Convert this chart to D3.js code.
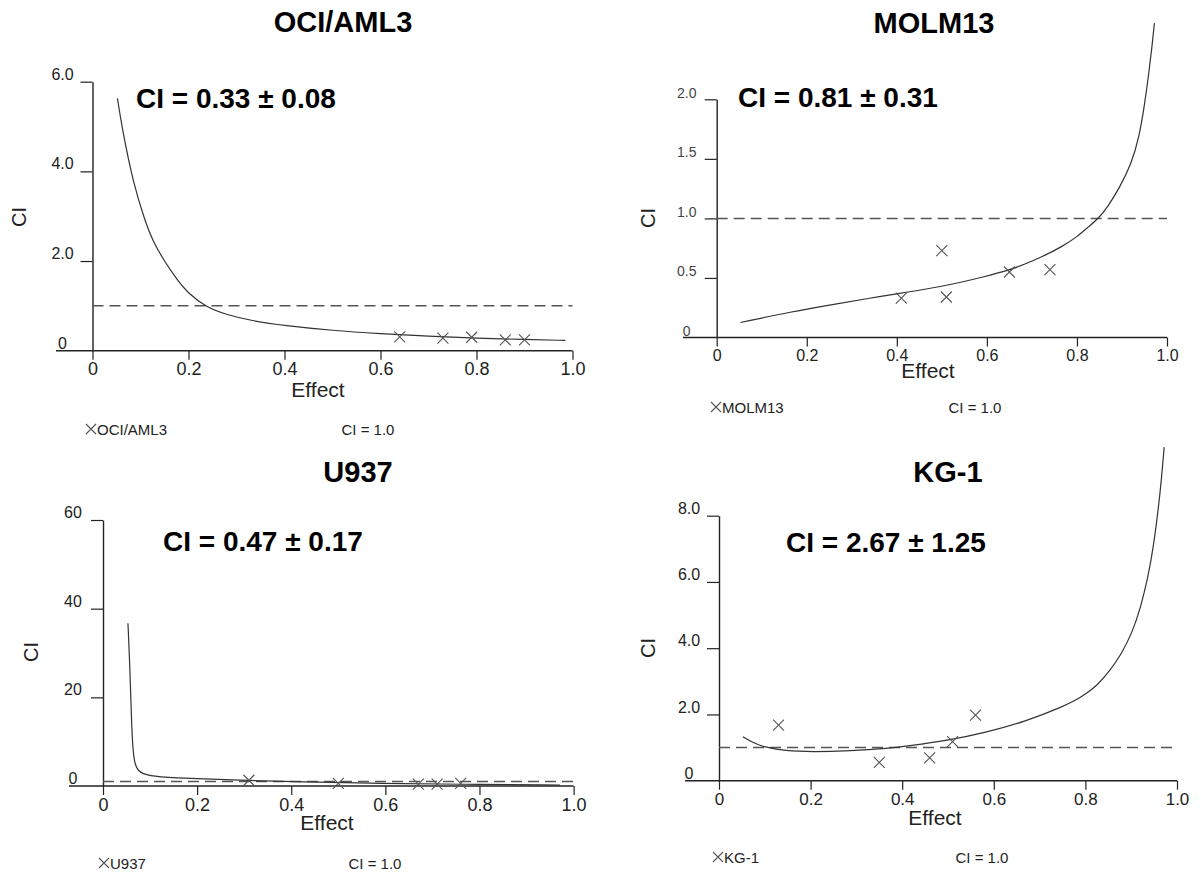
<!DOCTYPE html>
<html>
<head>
<meta charset="utf-8">
<script src="https://cdn.jsdelivr.net/npm/d3@7"></script>
<style>
  html, body { margin: 0; padding: 0; background: #fff; }
  svg { display: block; font-family: "Liberation Sans", Arial, sans-serif; }
  .axis-line { stroke: #222; stroke-width: 1.4; fill: none; }
  .tick line { stroke: #222; stroke-width: 1.2; }
  .curve { fill: none; stroke: #333; stroke-width: 1.2; }
  .ref-line { stroke: #555; stroke-width: 1.5; stroke-dasharray: 11 6; }
  .marker { stroke: #555; stroke-width: 1.1; fill: none; }
</style>
</head>
<body>
<svg id="chart" width="1201" height="875"></svg>
<script>
// ---- data ----
const panelNames = ["OCI/AML3", "MOLM13", "U937", "KG-1"];
const ciSummary = ["CI = 0.33 ± 0.08", "CI = 0.81 ± 0.31", "CI = 0.47 ± 0.17", "CI = 2.67 ± 1.25"];

const effectTicks = [0, 0.2, 0.4, 0.6, 0.8, 1.0];
const effectTickLabels = ["0", "0.2", "0.4", "0.6", "0.8", "1.0"];

const ociTicks = [0, 2, 4, 6];
const ociTickLabels = ["0", "2.0", "4.0", "6.0"];
const molmTicks = [0, 0.5, 1.0, 1.5, 2.0];
const molmTickLabels = ["0", "0.5", "1.0", "1.5", "2.0"];
const u937Ticks = [0, 20, 40, 60];
const u937TickLabels = ["0", "20", "40", "60"];
const kgTicks = [0, 2, 4, 6, 8];
const kgTickLabels = ["0", "2.0", "4.0", "6.0", "8.0"];

// measured combination points (Fa, CI)
const ociEffect = [0.64, 0.73, 0.79, 0.86, 0.90];
const ociCI = [0.31, 0.28, 0.30, 0.24, 0.24];
const molmEffect = [0.41, 0.50, 0.51, 0.65, 0.74];
const molmCI = [0.33, 0.73, 0.34, 0.55, 0.57];
const u937Effect = [0.31, 0.50, 0.67, 0.71, 0.76];
const u937CI = [1.3, 0.6, 0.4, 0.4, 0.6];
const kgEffect = [0.13, 0.35, 0.46, 0.51, 0.56];
const kgCI = [1.68, 0.55, 0.69, 1.18, 1.98];

// simulated Fa-CI curves
const ociCurveEffect = [0.052, 0.061, 0.085, 0.109, 0.125, 0.149, 0.175, 0.2, 0.237, 0.28, 0.33, 0.4, 0.5, 0.6, 0.7, 0.8, 0.9, 0.985];
const ociCurveCI = [5.63, 5.0, 3.73, 2.91, 2.46, 2.01, 1.6, 1.27, 0.97, 0.80, 0.67, 0.56, 0.45, 0.38, 0.32, 0.28, 0.25, 0.23];
const molmCurveEffect = [0.053, 0.168, 0.254, 0.339, 0.408, 0.510, 0.596, 0.651, 0.681, 0.724, 0.767, 0.801, 0.826, 0.848, 0.869, 0.895, 0.921, 0.938, 0.950, 0.959, 0.967, 0.972];
const molmCurveCI = [0.126, 0.218, 0.274, 0.33, 0.372, 0.434, 0.512, 0.568, 0.61, 0.68, 0.763, 0.847, 0.931, 1.0, 1.10, 1.26, 1.46, 1.68, 1.95, 2.2, 2.45, 2.64];
const u937CurveEffect = [0.053, 0.057, 0.061, 0.065, 0.073, 0.098, 0.146, 0.268, 0.431, 0.593, 0.756, 0.971];
const u937CurveCI = [36.7, 27.7, 12.6, 5.9, 3.2, 2.25, 1.88, 1.35, 0.9, 0.6, 0.38, 0.22];
const kgCurveEffect = [0.052, 0.076, 0.101, 0.144, 0.203, 0.287, 0.371, 0.414, 0.498, 0.582, 0.667, 0.751, 0.793, 0.827, 0.852, 0.878, 0.903, 0.920, 0.937, 0.949, 0.960, 0.966, 0.972];
const kgCurveCI = [1.33, 1.13, 1.01, 0.90, 0.87, 0.90, 0.98, 1.05, 1.21, 1.45, 1.78, 2.23, 2.53, 2.89, 3.3, 3.8, 4.5, 5.2, 6.15, 7.1, 8.3, 9.1, 10.07];

const refCI = 1.0;

// ---- layout per panel ----
const panels = [
  {
    name: panelNames[0], summary: ciSummary[0],
    yTicks: ociTicks, yTickLabels: ociTickLabels, yMax: 6,
    effect: ociEffect, ci: ociCI, curveEffect: ociCurveEffect, curveCI: ociCurveCI,
    x: [92.5, 572.5], y: [350.7, 81.7], axisStart: 56,
    title: [343, 32], note: [136, 108], yLabel: [19, 217], xLabel: [318, 397],
    legendY: 435, legendX: 86, refX: 368,
    yFont: 16, xFont: 18, yColor: "#222",
  },
  {
    name: panelNames[1], summary: ciSummary[1],
    yTicks: molmTicks, yTickLabels: molmTickLabels, yMax: 2,
    effect: molmEffect, ci: molmCI, curveEffect: molmCurveEffect, curveCI: molmCurveCI,
    x: [716.7, 1167], y: [337.5, 99.3], axisStart: 683,
    title: [934, 33], note: [738, 107], yLabel: [648, 218], xLabel: [928, 378],
    legendY: 413, legendX: 711, refX: 975,
    yFont: 14, xFont: 16, yColor: "#444",
  },
  {
    name: panelNames[2], summary: ciSummary[2],
    yTicks: u937Ticks, yTickLabels: u937TickLabels, yMax: 60,
    effect: u937Effect, ci: u937CI, curveEffect: u937CurveEffect, curveCI: u937CurveCI,
    x: [103, 573.6], y: [786, 520], axisStart: 69,
    title: [358, 482], note: [163, 551], yLabel: [31, 652], xLabel: [327, 830],
    legendY: 869, legendX: 99, refX: 375,
    yFont: 16, xFont: 18, yColor: "#222",
  },
  {
    name: panelNames[3], summary: ciSummary[3],
    yTicks: kgTicks, yTickLabels: kgTickLabels, yMax: 8,
    effect: kgEffect, ci: kgCI, curveEffect: kgCurveEffect, curveCI: kgCurveCI,
    x: [719, 1177], y: [780.7, 515.7], axisStart: 685,
    title: [948, 482], note: [786, 552], yLabel: [648, 648], xLabel: [935, 825],
    legendY: 863, legendX: 713, refX: 982,
    yFont: 16, xFont: 17, yColor: "#222",
  },
];

const svg = d3.select("#chart");

function crossPath(cx, cy, r) {
  return `M${cx - r},${cy - r}L${cx + r},${cy + r}M${cx - r},${cy + r}L${cx + r},${cy - r}`;
}

panels.forEach((p) => {
  const g = svg.append("g");

  const xScale = d3.scaleLinear().domain([0, 1]).range(p.x);
  const yScale = d3.scaleLinear().domain([0, p.yMax]).range(p.y);

  // x axis: long base line reaching left of the CI axis
  g.append("line")
    .attr("class", "axis-line")
    .attr("x1", p.axisStart)
    .attr("x2", xScale(1))
    .attr("y1", yScale(0))
    .attr("y2", yScale(0));

  const xAxis = d3
    .axisBottom(xScale)
    .tickValues(effectTicks)
    .tickSize(9)
    .tickSizeOuter(0)
    .tickFormat((d, i) => effectTickLabels[i]);

  const xg = g
    .append("g")
    .attr("transform", `translate(0, ${yScale(0)})`)
    .call(xAxis);
  xg.select(".domain").remove();
  xg.selectAll("text")
    .attr("y", 12)
    .attr("dy", "0.71em")
    .attr("fill", "#222")
    .style("font-size", `${p.xFont}px`)
    .style("font-family", null);

  // y axis
  const yAxis = d3
    .axisLeft(yScale)
    .tickValues(p.yTicks)
    .tickSize(12)
    .tickSizeOuter(0)
    .tickFormat((d, i) => p.yTickLabels[i]);

  const yg = g
    .append("g")
    .attr("transform", `translate(${xScale(0)}, 0)`)
    .call(yAxis);
  yg.select(".domain").attr("class", "axis-line");
  yg.selectAll(".tick")
    .filter((d) => d === 0)
    .select("line")
    .remove();
  yg.selectAll("text")
    .attr("x", -30)
    .attr("dy", "-0.15em")
    .attr("text-anchor", "middle")
    .attr("fill", p.yColor)
    .style("font-size", `${p.yFont}px`)
    .style("font-family", null);

  // CI = 1 reference
  g.append("line")
    .attr("class", "ref-line")
    .attr("x1", xScale(0))
    .attr("x2", xScale(1))
    .attr("y1", yScale(refCI))
    .attr("y2", yScale(refCI));

  // Fa-CI curve (smoothed through the traced points)
  const line = d3
    .line()
    .x((d) => xScale(d[0]))
    .y((d) => yScale(d[1]))
    .curve(d3.curveBasis);

  g.append("path")
    .attr("class", "curve")
    .attr("d", line(p.curveEffect.map((e, i) => [e, p.curveCI[i]])));

  // data points
  g.selectAll(".marker")
    .data(p.effect.map((e, i) => [e, p.ci[i]]))
    .join("path")
    .attr("class", "marker")
    .attr("d", (d) => crossPath(xScale(d[0]), yScale(d[1]), 5.5));

  // labels
  g.append("text")
    .attr("x", p.title[0])
    .attr("y", p.title[1])
    .attr("text-anchor", "middle")
    .attr("font-weight", "bold")
    .attr("font-size", 29)
    .attr("fill", "#000")
    .text(p.name);

  g.append("text")
    .attr("x", p.note[0])
    .attr("y", p.note[1])
    .attr("font-weight", "bold")
    .attr("font-size", 28)
    .attr("fill", "#000")
    .text(p.summary);

  g.append("text")
    .attr("transform", `translate(${p.yLabel[0]}, ${p.yLabel[1]}) rotate(-90)`)
    .attr("text-anchor", "middle")
    .attr("dy", "0.35em")
    .attr("font-size", 20)
    .attr("fill", "#222")
    .text("CI");

  g.append("text")
    .attr("x", p.xLabel[0])
    .attr("y", p.xLabel[1])
    .attr("text-anchor", "middle")
    .attr("font-size", 21)
    .attr("fill", "#222")
    .text("Effect");

  // legend
  g.append("path")
    .attr("class", "marker")
    .attr("d", crossPath(p.legendX + 5, p.legendY - 6, 5));

  g.append("text")
    .attr("x", p.legendX + 11)
    .attr("y", p.legendY)
    .attr("font-size", 15)
    .attr("fill", "#222")
    .text(p.name);

  g.append("text")
    .attr("x", p.refX)
    .attr("y", p.legendY)
    .attr("text-anchor", "middle")
    .attr("font-size", 15)
    .attr("fill", "#222")
    .text(`CI = ${refCI.toFixed(1)}`);
});
</script>
</body>
</html>
